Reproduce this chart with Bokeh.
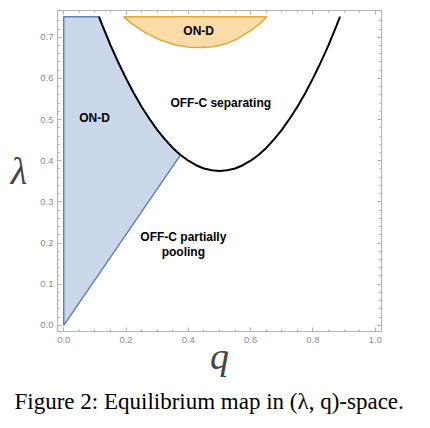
from bokeh.plotting import figure
from bokeh.models import (Range1d, FixedTicker, LinearAxis, PrintfTickFormatter, Label, Title)
from bokeh.embed import file_html
from bokeh.resources import INLINE

# fronteira preta (curva em U)
curva_q = [0.113, 0.125, 0.15, 0.175, 0.2, 0.225, 0.25, 0.275, 0.3, 0.325, 0.35, 0.375, 0.4, 0.425,
           0.45, 0.475, 0.5, 0.525, 0.55, 0.575, 0.6, 0.625, 0.65, 0.675, 0.7, 0.725, 0.75, 0.775,
           0.8, 0.825, 0.85, 0.875, 0.887]
curva_l = [0.75, 0.727, 0.681, 0.639, 0.600, 0.564, 0.531, 0.502, 0.475, 0.452, 0.431, 0.414, 0.400, 0.389,
           0.381, 0.377, 0.375, 0.377, 0.381, 0.389, 0.400, 0.414, 0.431, 0.452, 0.475, 0.502, 0.531, 0.564,
           0.600, 0.639, 0.681, 0.727, 0.75]

# região azul ON-D (esquerda)
azul_q = [0.0, 0.0, 0.113, 0.125, 0.15, 0.175, 0.2, 0.225, 0.25, 0.275, 0.3, 0.325, 0.35, 0.375]
azul_l = [0.0, 0.75, 0.75, 0.727, 0.681, 0.639, 0.600, 0.564, 0.531, 0.502, 0.475, 0.452, 0.431, 0.414]

# região laranja ON-D (topo)
laranja_q = [0.192, 0.22, 0.26, 0.31, 0.36, 0.40, 0.44, 0.48, 0.52, 0.56, 0.60, 0.63, 0.652]
laranja_l = [0.75, 0.732, 0.712, 0.693, 0.681, 0.676, 0.675, 0.677, 0.684, 0.697, 0.716, 0.733, 0.75]

ticks_x = [0.0, 0.2, 0.4, 0.6, 0.8, 1.0]
ticks_y = [0.0, 0.1, 0.2, 0.3, 0.4, 0.5, 0.6, 0.7]

cinza = "#b3b3b3"
cinza_texto = "#8c8c8c"

p = figure(width=421, height=420, output_backend="svg", toolbar_location=None,
           x_range=Range1d(-0.02, 1.02), y_range=Range1d(-0.015, 0.765),
           x_axis_type=None, y_axis_type=None,
           min_border_left=57, min_border_right=40, min_border_top=10, min_border_bottom=87)
p.grid.visible = False
p.outline_line_color = cinza
p.background_fill_color = "white"
p.border_fill_color = "white"

# eixos estilo Mathematica: quatro lados, ticks para dentro
tick_x = FixedTicker(ticks=ticks_x, minor_ticks=[i * 0.05 for i in range(21)])
tick_y = FixedTicker(ticks=ticks_y, minor_ticks=[i * 0.02 for i in range(38)])
eixos = {}
for lado in ["below", "left", "above", "right"]:
    eixo = LinearAxis(ticker=tick_x if lado in ("below", "above") else tick_y,
                      formatter=PrintfTickFormatter(format="%.1f"))
    eixo.axis_line_color = cinza
    eixo.major_tick_line_color = cinza
    eixo.minor_tick_line_color = cinza
    eixo.major_tick_in = 4
    eixo.major_tick_out = 0
    eixo.minor_tick_in = 2
    eixo.minor_tick_out = 0
    eixo.major_label_text_font = "Liberation Sans"
    eixo.major_label_text_font_size = "9.5px"
    eixo.major_label_text_color = cinza_texto
    eixo.major_label_standoff = 5 if lado == "below" else 4
    if lado in ("above", "right"):
        # só o traço e os ticks, sem números
        eixo.major_label_text_font_size = "1px"
        eixo.major_label_text_color = None
        eixo.major_label_standoff = 0
    p.add_layout(eixo, lado)
    eixos[lado] = eixo

# nomes dos eixos
eixos["left"].axis_label = "λ"
eixos["left"].axis_label_orientation = "horizontal"
eixos["left"].axis_label_text_font = "Liberation Serif"
eixos["left"].axis_label_text_font_style = "italic"
eixos["left"].axis_label_text_font_size = "38px"
eixos["left"].axis_label_standoff = 10
eixos["below"].axis_label = "q"
eixos["below"].axis_label_text_font = "Liberation Serif"
eixos["below"].axis_label_text_font_style = "italic"
eixos["below"].axis_label_text_font_size = "38px"
eixos["below"].axis_label_standoff = -11

# legenda da figura
p.add_layout(Title(text="Figure 2: Equilibrium map in (λ, q)-space.", align="left", offset=-43,
                   text_font="Liberation Serif", text_font_style="normal",
                   text_font_size="23px", text_color="black", standoff=14), "below")

# regiões
p.patch(azul_q, azul_l, fill_color="#cbd8e9", line_color="#5f82b8", line_width=1.5)
p.patch(laranja_q, laranja_l, fill_color="#f9dca7", line_color="#e3a83a", line_width=1.5)
p.line(curva_q, curva_l, line_color="black", line_width=2)

# textos das regiões
def rotulo(x, y, texto):
    p.add_layout(Label(x=x, y=y, text=texto, text_align="center", text_baseline="middle",
                       text_font="Liberation Sans", text_font_style="bold",
                       text_font_size="12px", text_color="black"))

rotulo(0.099, 0.503, "ON-D")
rotulo(0.433, 0.715, "ON-D")
rotulo(0.504, 0.541, "OFF-C separating")
rotulo(0.384, 0.214, "OFF-C partially")
rotulo(0.384, 0.179, "pooling")

open("out.html", "w").write(file_html(p, INLINE))
